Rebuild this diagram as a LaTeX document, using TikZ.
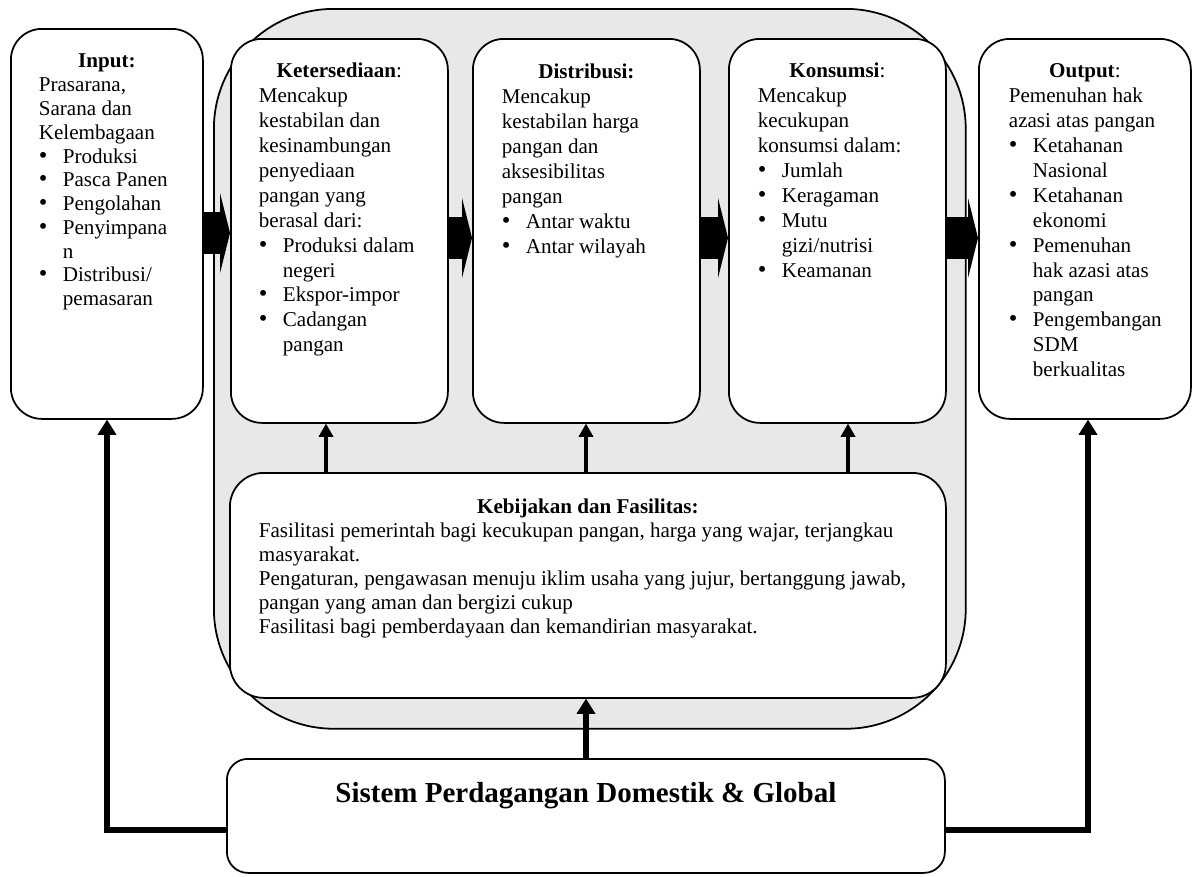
\documentclass[tikz,border=0pt]{standalone}
\usepackage{fontspec}
\setmainfont{Liberation Serif}
\usepackage{tikz}
\usetikzlibrary{arrows.meta}
\definecolor{latarColor}{rgb}{0.91,0.91,0.91}

\newlength{\pks}
\setlength{\pks}{0.02cm}
\newcommand{\isikotak}[3]{\parbox[t][#2\pks][t]{#1\pks}{#3}}
\newcommand{\judul}[2]{{\centering\rule{0pt}{#1\pks}#2\par}}
\newcommand{\kiri}[1]{\raggedright\leftskip=#1\pks\relax}
\newcommand{\butir}{\makebox[24\pks][l]{\fontsize{14}{14}\selectfont\textbullet}}
\newcommand{\lanjut}{\hspace*{24\pks}}

\begin{document}
\begin{tikzpicture}[x=0.02cm,y=-0.02cm]

          \tikzstyle{latar} = [draw,line width=1pt,fill=latarColor,rounded corners=2.4cm,anchor=north west,inner sep=0pt];
          \tikzstyle{kotak} = [draw,line width=1pt,fill=white,rounded corners=0.62cm,anchor=north west,inner sep=0pt,font=\fontsize{12}{14.17}\selectfont];
          \tikzstyle{blokpanah} = [line width=0.84cm,-{Triangle[width=1.6cm,length=0.2cm,line width=0pt]}];
          \tikzstyle{panah} = [line width=1.9pt,-{Triangle[width=0.3cm,length=0.26cm,line width=0pt]}];
          \tikzstyle{panahtebal} = [line width=3.4pt,-{Triangle[width=0.38cm,length=0.3cm,line width=0pt]}];

          \useasboundingbox (0,0) rectangle (1193,876);

          \node[latar,minimum width=15.04cm,minimum height=14.4cm] (latar) at (213,8) {};

          \node[kotak,font=\fontsize{12}{13.54}\selectfont] (inp) at (10,28) {\isikotak{192}{390}{%
            \judul{39}{\textbf{Input:}}
            \kiri{28}
            Prasarana,\\
            Sarana dan\\
            Kelembagaan\\
            \butir Produksi\\
            \butir Pasca Panen\\
            \butir Pengolahan\\
            \butir Penyimpana\\
            \lanjut n\\
            \butir Distribusi/\\
            \lanjut pemasaran}};
          \node[kotak] (sedia) at (230,38) {\isikotak{217}{384}{%
            \judul{39}{\textbf{Ketersediaan}:}
            \kiri{28}
            Mencakup\\
            kestabilan dan\\
            kesinambungan\\
            penyediaan\\
            pangan yang\\
            berasal dari:\\
            \butir Produksi dalam\\
            \lanjut negeri\\
            \butir Ekspor-impor\\
            \butir Cadangan\\
            \lanjut pangan}};
          \node[kotak] (dist) at (472,38) {\isikotak{227}{384}{%
            \judul{40}{\textbf{Distribusi:}}
            \kiri{29}
            Mencakup\\
            kestabilan harga\\
            pangan dan\\
            aksesibilitas\\
            pangan\\
            \butir Antar waktu\\
            \butir Antar wilayah}};
          \node[kotak] (kons) at (728,38) {\isikotak{217}{384}{%
            \judul{39}{\textbf{Konsumsi}:}
            \kiri{29}
            Mencakup\\
            kecukupan\\
            konsumsi dalam:\\
            \butir Jumlah\\
            \butir Keragaman\\
            \butir Mutu\\
            \lanjut gizi/nutrisi\\
            \butir Keamanan}};
          \node[kotak] (outp) at (978,38) {\isikotak{212}{380}{%
            \judul{39}{\textbf{Output}:}
            \kiri{30}
            Pemenuhan hak\\
            azasi atas pangan\\
            \butir Ketahanan\\
            \lanjut Nasional\\
            \butir Ketahanan\\
            \lanjut ekonomi\\
            \butir Pemenuhan\\
            \lanjut hak azasi atas\\
            \lanjut pangan\\
            \butir Pengembangan\\
            \lanjut SDM\\
            \lanjut berkualitas}};

          \node[kotak,rounded corners=0.68cm,font=\fontsize{12}{13.66}\selectfont] (bijak) at (229,472) {\isikotak{716}{225}{%
            \judul{41}{\textbf{Kebijakan dan Fasilitas:}}
            \kiri{29}
            Fasilitasi pemerintah bagi kecukupan pangan, harga yang wajar, terjangkau\\
            masyarakat.\\
            Pengaturan, pengawasan menuju iklim usaha yang jujur, bertanggung jawab,\\
            pangan yang aman dan bergizi cukup\\
            Fasilitasi bagi pemberdayaan dan kemandirian masyarakat.}};

          \node[kotak,rounded corners=0.42cm] (sis) at (226,758) {\isikotak{718}{114}{%
            \judul{44}{\fontsize{16.5}{19}\selectfont\bfseries Sistem Perdagangan Domestik \& Global}}};

          \draw[blokpanah] (inp.east |- 0,233) -- (sedia.west |- 0,233);
          \draw[blokpanah] (sedia.east |- 0,238) -- (dist.west |- 0,238);
          \draw[blokpanah] (dist.east |- 0,238) -- (kons.west |- 0,238);
          \draw[blokpanah] (kons.east |- 0,238) -- (outp.west |- 0,238);

          \draw[panah] (bijak.north -| 326,0) -- (sedia.south -| 326,0);
          \draw[panah] (bijak.north -| 586,0) -- (dist.south -| 586,0);
          \draw[panah] (bijak.north -| 848,0) -- (kons.south -| 848,0);

          \draw[panahtebal] (sis.north -| 586,0) -- (bijak.south -| 586,0);
          \draw[panahtebal] (sis.west |- 0,830) -| (inp.south -| 107,0);
          \draw[panahtebal] (sis.east |- 0,830) -| (outp.south -| 1088,0);
        \end{tikzpicture}
\end{document}
